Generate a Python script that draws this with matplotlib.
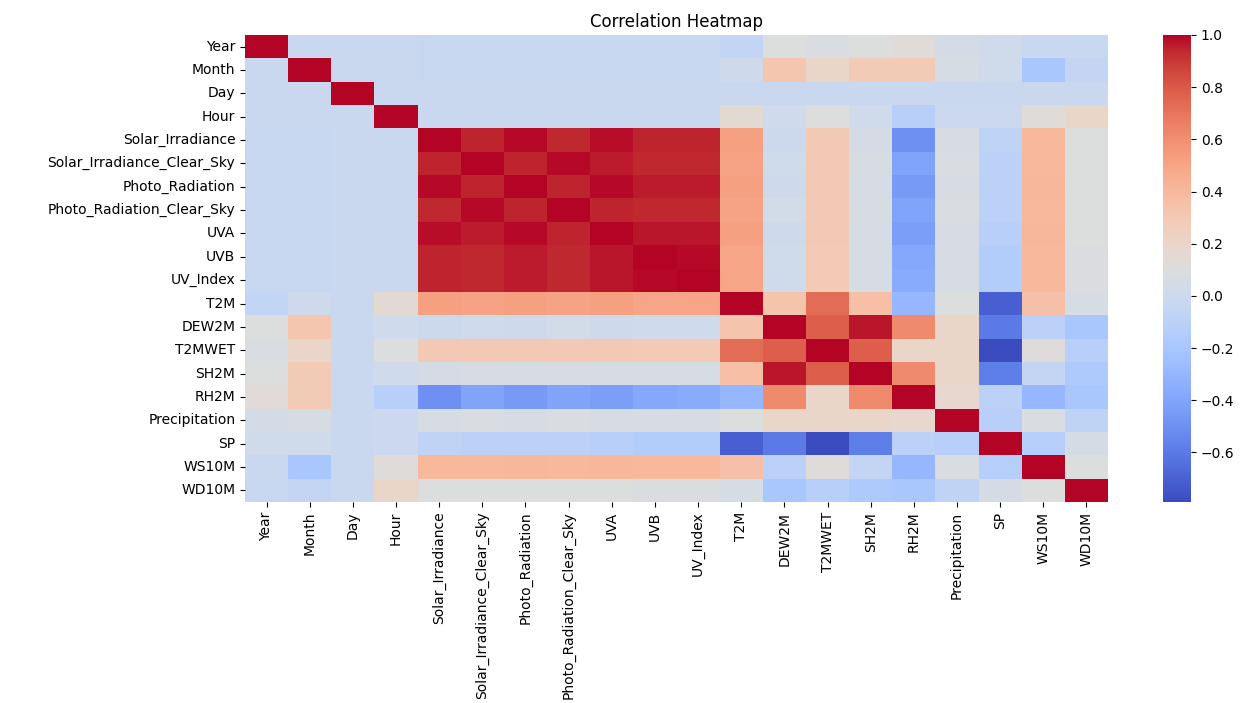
import numpy as np
import pandas as pd
import matplotlib
matplotlib.use("Agg")
import matplotlib.pyplot as plt
import seaborn as sns

labels = ["Year", "Month", "Day", "Hour", "Solar_Irradiance",
          "Solar_Irradiance_Clear_Sky", "Photo_Radiation",
          "Photo_Radiation_Clear_Sky", "UVA", "UVB", "UV_Index", "T2M",
          "DEW2M", "T2MWET", "SH2M", "RH2M", "Precipitation", "SP",
          "WS10M", "WD10M"]

# lower triangle of the correlation matrix, row i holds columns 0..i-1
corr_lower = [
    [],
    [-0.02],
    [-0.02, -0.02],
    [-0.02, -0.02, -0.02],
    [-0.03, -0.03, -0.02, -0.02],
    [-0.03, -0.03, -0.02, -0.02, 0.95],
    [-0.03, -0.03, -0.02, -0.02, 0.99, 0.95],
    [-0.03, -0.03, -0.02, -0.02, 0.94, 0.99, 0.95],
    [-0.03, -0.03, -0.02, -0.02, 0.98, 0.96, 0.99, 0.95],
    [-0.03, -0.03, -0.02, -0.02, 0.95, 0.94, 0.96, 0.94, 0.97],
    [-0.03, -0.03, -0.02, -0.02, 0.95, 0.94, 0.96, 0.94, 0.97, 0.99],
    [-0.06, 0.01, -0.02, 0.15, 0.52, 0.51, 0.52, 0.51, 0.52, 0.50, 0.50],
    [0.10, 0.32, -0.02, 0.02, 0.0, 0.02, 0.01, 0.03, 0.01, 0.02, 0.02, 0.33],
    [0.08, 0.20, -0.02, 0.10, 0.30, 0.30, 0.30, 0.30, 0.30, 0.29, 0.29, 0.73,
     0.78],
    [0.10, 0.28, -0.02, 0.02, 0.05, 0.07, 0.06, 0.07, 0.06, 0.06, 0.06, 0.36,
     0.97, 0.78],
    [0.13, 0.28, -0.02, -0.12, -0.50, -0.40, -0.45, -0.40, -0.43, -0.38,
     -0.37, -0.30, 0.62, 0.20, 0.62],
    [0.04, 0.06, -0.02, -0.01, 0.07, 0.08, 0.07, 0.08, 0.07, 0.07, 0.07, 0.10,
     0.20, 0.20, 0.20, 0.18],
    [0.02, 0.02, -0.02, -0.01, -0.08, -0.10, -0.10, -0.10, -0.12, -0.14,
     -0.14, -0.71, -0.60, -0.79, -0.58, -0.10, -0.12],
    [-0.02, -0.20, -0.02, 0.12, 0.40, 0.40, 0.41, 0.40, 0.41, 0.40, 0.40,
     0.35, -0.10, 0.12, -0.05, -0.30, 0.08, -0.13],
    [-0.03, -0.05, -0.02, 0.20, 0.10, 0.10, 0.10, 0.10, 0.10, 0.09, 0.09,
     0.06, -0.20, -0.12, -0.17, -0.20, -0.08, 0.05, 0.10],
]

n = len(labels)
corr = np.eye(n)
for i, row in enumerate(corr_lower):
    for j, v in enumerate(row):
        corr[i, j] = v
        corr[j, i] = v
corr = pd.DataFrame(corr, index=labels, columns=labels)

fig = plt.figure(figsize=(12.49, 7.03), dpi=100)
ax = fig.add_axes([245 / 1249, 1 - 502 / 703, 863 / 1249, 467 / 703])
cax = fig.add_axes([1163 / 1249, 1 - 502 / 703, 28 / 1249, 467 / 703])

sns.heatmap(corr, cmap="coolwarm", ax=ax, cbar_ax=cax)
ax.set_title("Correlation Heatmap", fontsize=12)
cax.set_yticks([-0.6, -0.4, -0.2, 0.0, 0.2, 0.4, 0.6, 0.8, 1.0])

plt.savefig("out.png", dpi=100)
